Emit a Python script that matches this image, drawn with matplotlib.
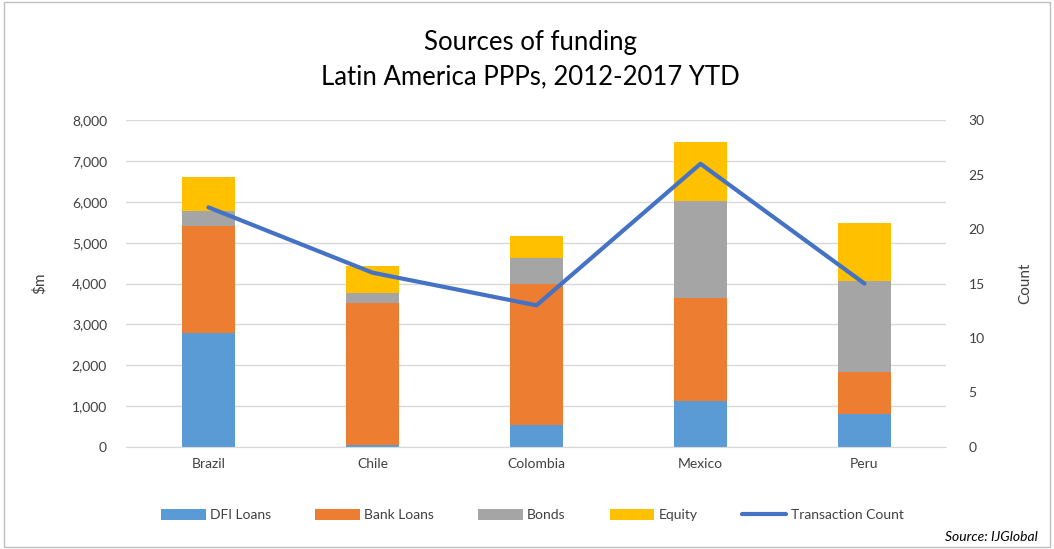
import numpy as np
import matplotlib.pyplot as plt
from matplotlib.patches import Rectangle

plt.rcParams['font.family'] = ['Lato', 'DejaVu Sans']

countries = ['Brazil', 'Chile', 'Colombia', 'Mexico', 'Peru']
dfi_loans = [2780, 50, 540, 1130, 810]
bank_loans = [2620, 3480, 3450, 2520, 1030]
bonds = [370, 230, 630, 2370, 2230]
equity = [850, 670, 550, 1440, 1420]
transaction_count = [22, 16, 13, 26, 15]

series = [('DFI Loans', dfi_loans, '#5B9BD5'),
          ('Bank Loans', bank_loans, '#ED7D31'),
          ('Bonds', bonds, '#A5A5A5'),
          ('Equity', equity, '#FFC000')]

fig = plt.figure(figsize=(10.54, 5.49), dpi=100)
ax = fig.add_axes([0.12, 0.186, 0.778, 0.595])
ax2 = ax.twinx()

x = np.arange(len(countries))
bottom = np.zeros(len(countries))
handles = []
for name, vals, color in series:
    b = ax.bar(x, vals, 0.32, bottom=bottom, color=color, label=name, zorder=2)
    handles.append(b)
    bottom += np.array(vals)

line, = ax2.plot(x, transaction_count, color='#4472C4', lw=3,
                 solid_capstyle='round', label='Transaction Count', zorder=3)
handles.append(line)

ax.set_xlim(-0.5, len(countries) - 0.5)
ax.set_ylim(0, 8000)
ax.set_yticks(range(0, 8001, 1000))
ax.set_yticklabels([f'{v:,}' for v in range(0, 8001, 1000)])
ax2.set_ylim(0, 30)
ax2.set_yticks(range(0, 31, 5))
ax.set_xticks(x)
ax.set_xticklabels(countries)

ax.yaxis.grid(True, color='#D9D9D9', lw=1, zorder=0)
ax.set_axisbelow(True)
for a in (ax, ax2):
    for s in a.spines.values():
        s.set_visible(False)
    a.tick_params(length=0, labelsize=10, colors='#404040')
ax.spines['bottom'].set_visible(True)
ax.spines['bottom'].set_color('#D9D9D9')
ax.tick_params(axis='y', pad=14)
ax2.tick_params(axis='y', pad=16)
ax.tick_params(axis='x', pad=8)

ax.set_ylabel('$m', fontsize=11, color='#404040', labelpad=18)
ax2.set_ylabel('Count', fontsize=11, color='#404040', labelpad=24)

fig.text(0.503, 0.922, 'Sources of funding', ha='center', va='center',
         fontsize=18.5, color='#000000')
fig.text(0.503, 0.86, 'Latin America PPPs, 2012-2017 YTD', ha='center',
         va='center', fontsize=18.5, color='#000000')

fig.legend(handles=handles, loc='center', bbox_to_anchor=(0.505, 0.062),
           ncol=5, frameon=False, fontsize=10, handlelength=3.2,
           handleheight=0.8, columnspacing=3.2, handletextpad=0.3,
           labelcolor='#404040')

fig.text(0.985, 0.022, 'Source: IJGlobal', ha='right', va='center',
         fontsize=10, style='italic', color='#000000')

fig.patches.append(Rectangle((0.004, 0.004), 0.992, 0.992, transform=fig.transFigure,
                             fill=False, edgecolor='#BFBFBF', lw=1))

fig.savefig('out.png', dpi=100)
